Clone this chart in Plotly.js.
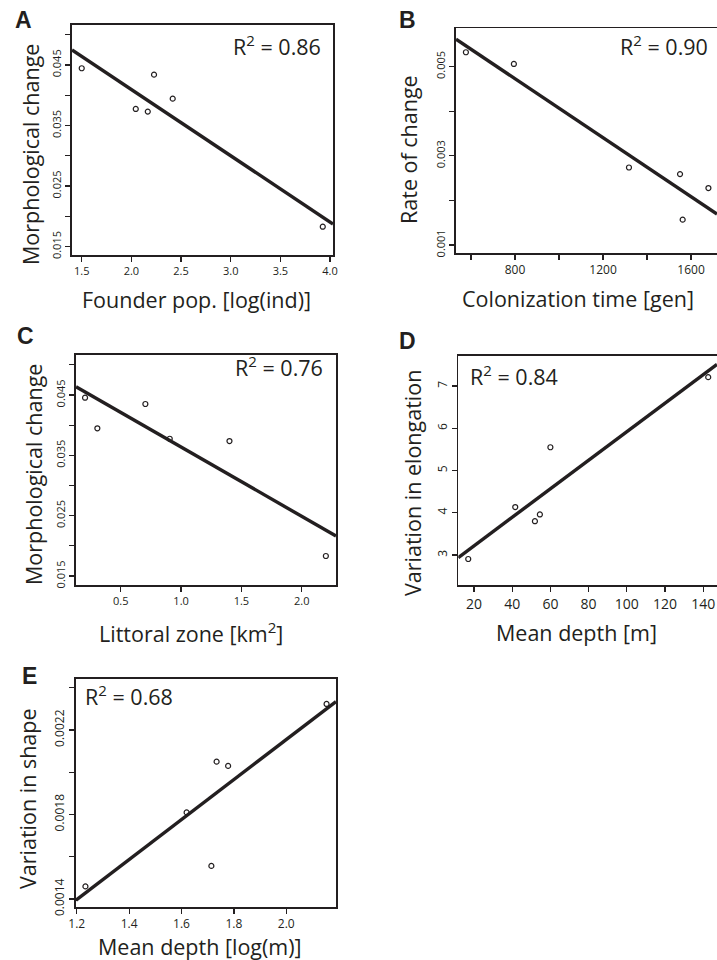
<!DOCTYPE html>
<html>
<head>
<meta charset="utf-8">
<script src="https://cdn.plot.ly/plotly-3.0.1.min.js"></script>
<style>html,body{margin:0;padding:0;background:#fff;}#chart{width:717px;height:960px;}</style>
</head>
<body>
<div id="chart"></div>
<script>
// ---------- Data ----------
// Panel A
const founderPop = [1.50, 2.044, 2.165, 2.228, 2.416, 3.927];
const morphChangeA = [0.04446, 0.03774, 0.03730, 0.0434, 0.03944, 0.0183];
const fitA_x = [1.402, 4.03];
const fitA_y = [0.04748, 0.01875];
// Panel B
const colonTime = [577, 795, 1318, 1550, 1562, 1679];
const rateChange = [0.005322, 0.00506, 0.002738, 0.00259, 0.001568, 0.002277];
const fitB_x = [532, 1718];
const fitB_y = [0.005613, 0.001696];
// Panel C
const littoral = [0.204, 0.306, 0.704, 0.906, 1.401, 2.20];
const morphChangeC = [0.04455, 0.03948, 0.04351, 0.03775, 0.03737, 0.01832];
const fitC_x = [0.129, 2.284];
const fitC_y = [0.04638, 0.02163];
// Panel D
const meanDepth = [17.0, 41.6, 51.9, 54.5, 60.0, 142.6];
const elongVar = [2.905, 4.135, 3.80, 3.96, 5.55, 7.21];
const fitD_x = [11.8, 147.2];
const fitD_y = [2.94, 7.51];
// Panel E
const logDepth = [1.233, 1.6195, 1.714, 1.734, 1.778, 2.154];
const shapeVar = [0.00146, 0.00181, 0.001557, 0.00205, 0.00203, 0.002323];
const fitE_x = [1.197, 2.19];
const fitE_y = [0.001395, 0.002334];

// Tick labels (labelled ticks) and unlabelled minor ticks
const tickA_x = [1.5, 2.0, 2.5, 3.0, 3.5, 4.0];
const tickA_xText = ['1.5', '2.0', '2.5', '3.0', '3.5', '4.0'];
const tickMorph_y = [0.015, 0.025, 0.035, 0.045];
const tickMorph_yText = ['0.015', '0.025', '0.035', '0.045'];
const minorMorph_y = [0.020, 0.030, 0.040, 0.050];
const tickB_x = [800, 1200, 1600];
const tickB_xText = ['800', '1200', '1600'];
const minorB_x = [600, 1000, 1400];
const tickB_y = [0.001, 0.003, 0.005];
const tickB_yText = ['0.001', '0.003', '0.005'];
const minorB_y = [0.002, 0.004];
const tickC_x = [0.5, 1.0, 1.5, 2.0];
const tickC_xText = ['0.5', '1.0', '1.5', '2.0'];
const tickD_x = [20, 40, 60, 80, 100, 120, 140];
const tickD_xText = ['20', '40', '60', '80', '100', '120', '140'];
const tickD_y = [3, 4, 5, 6, 7];
const tickD_yText = ['3', '4', '5', '6', '7'];
const tickE_x = [1.2, 1.4, 1.6, 1.8, 2.0];
const tickE_xText = ['1.2', '1.4', '1.6', '1.8', '2.0'];
const tickE_y = [0.0014, 0.0018, 0.0022];
const tickE_yText = ['0.0014', '0.0018', '0.0022'];
const minorE_y = [0.0016, 0.0020, 0.0024];

// ---------- Layout helpers ----------
const W = 717, H = 960;
const px = x => x / W;
const py = y => 1 - y / H;
const INK = '#231f20';
const FONT = 'Open Sans, Noto Sans, sans-serif';

function minorSpec(vals) {
  if (!vals) return {ticks: ''};
  return {tickmode: 'array', tickvals: vals, ticks: 'outside', ticklen: 5, tickwidth: 1.3,
          tickcolor: INK, showgrid: false};
}
function xa(domain, range, tv, tt, fs, anchor, minor) {
  return {
    domain: [px(domain[0]), px(domain[1])], range: range, anchor: anchor,
    tickmode: 'array', tickvals: tv, ticktext: tt,
    showline: true, linecolor: INK, linewidth: 1.8, mirror: true,
    ticks: 'outside', ticklen: 5, tickwidth: 1.3, tickcolor: INK,
    tickfont: {family: FONT, size: fs, color: INK},
    minor: minorSpec(minor),
    showgrid: false, zeroline: false, fixedrange: true
  };
}
function ya(domain, range, tv, tt, fs, anchor, mirror, minor) {
  return {
    domain: [py(domain[1]), py(domain[0])], range: range, anchor: anchor,
    tickmode: 'array', tickvals: tv, ticktext: tt, tickangle: -90,
    showline: true, linecolor: INK, linewidth: 1.8, mirror: mirror,
    ticks: 'outside', ticklen: 5, tickwidth: 1.3, tickcolor: INK,
    tickfont: {family: FONT, size: fs, color: INK},
    minor: minorSpec(minor),
    showgrid: false, zeroline: false, fixedrange: true
  };
}

function pts(x, y, ax) {
  return {x: x, y: y, xaxis: 'x' + ax, yaxis: 'y' + ax, type: 'scatter', mode: 'markers',
    marker: {symbol: 'circle-open', size: 5, color: INK, line: {width: 1.2, color: INK}},
    hoverinfo: 'x+y', showlegend: false};
}
function fit(x, y, ax) {
  return {x: x, y: y, xaxis: 'x' + ax, yaxis: 'y' + ax, type: 'scatter', mode: 'lines',
    line: {color: INK, width: 3.4}, hoverinfo: 'skip', showlegend: false};
}

const data = [
  fit(fitA_x, fitA_y, ''), pts(founderPop, morphChangeA, ''),
  fit(fitB_x, fitB_y, '2'), pts(colonTime, rateChange, '2'),
  fit(fitC_x, fitC_y, '3'), pts(littoral, morphChangeC, '3'),
  fit(fitD_x, fitD_y, '4'), pts(meanDepth, elongVar, '4'),
  fit(fitE_x, fitE_y, '5'), pts(logDepth, shapeVar, '5')
];

function ann(text, x, y, size, opts) {
  return Object.assign({text: text, x: px(x), y: py(y), xref: 'paper', yref: 'paper',
    showarrow: false, xanchor: 'center', yanchor: 'middle',
    font: {family: FONT, size: size, color: INK}}, opts || {});
}
const TS = 21.5;
const LET = {family: 'Liberation Sans, Arial, sans-serif', size: 23, color: INK, weight: 'bold'};

const annotations = [
  // panel letters
  ann('<b>A</b>', 24, 20, 23, {font: LET}),
  ann('<b>B</b>', 407, 20, 23, {font: LET}),
  ann('<b>C</b>', 25, 336, 23, {font: LET}),
  ann('<b>D</b>', 407, 341, 23, {font: LET}),
  ann('<b>E</b>', 29, 676, 23, {font: LET}),
  // R^2
  ann('R<sup>2</sup> = 0.86', 323, 45, TS, {xanchor: 'right'}),
  ann('R<sup>2</sup> = 0.90', 710, 45, TS, {xanchor: 'right'}),
  ann('R<sup>2</sup> = 0.76', 325, 366, TS, {xanchor: 'right'}),
  ann('R<sup>2</sup> = 0.84', 468, 375, TS, {xanchor: 'left'}),
  ann('R<sup>2</sup> = 0.68', 83, 695, TS, {xanchor: 'left'}),
  // axis titles
  ann('Morphological change', 30, 155, TS, {textangle: -90}),
  ann('Founder pop. [log(ind)]', 196, 299, TS),
  ann('Rate of change', 408, 150, TS, {textangle: -90}),
  ann('Colonization time [gen]', 578, 298, TS),
  ann('Morphological change', 33, 475, TS, {textangle: -90}),
  ann('Littoral zone [km<sup>2</sup>]', 191, 632, TS),
  ann('Variation in elongation', 412, 483, TS, {textangle: -90}),
  ann('Mean depth [m]', 576, 632, TS),
  ann('Variation in shape', 27, 799, TS, {textangle: -90}),
  ann('Mean depth [log(m)]', 200, 946, TS)
];

const layout = {
  width: W, height: H, margin: {l: 0, r: 0, t: 0, b: 0},
  paper_bgcolor: '#fff', plot_bgcolor: '#fff', showlegend: false,
  font: {family: FONT, color: INK},
  xaxis:  xa([72, 333], [1.402, 4.03], tickA_x, tickA_xText, 11, 'y', null),
  yaxis:  ya([25, 255], [0.01363, 0.0516], tickMorph_y, tickMorph_yText, 11, 'x', true, minorMorph_y),
  xaxis2: xa([456, 717], [532, 1718], tickB_x, tickB_xText, 12, 'y2', minorB_x),
  yaxis2: ya([28.3, 253], [0.000821, 0.005859], tickB_y, tickB_yText, 11, 'x2', false, minorB_y),
  xaxis3: xa([76, 336], [0.129, 2.284], tickC_x, tickC_xText, 11, 'y3', null),
  yaxis3: ya([355, 585], [0.01351, 0.05163], tickMorph_y, tickMorph_yText, 11, 'x3', true, minorMorph_y),
  xaxis4: xa([458.3, 717], [11.8, 147.2], tickD_x, tickD_xText, 14, 'y4', null),
  yaxis4: ya([356, 585], [2.29, 7.71], tickD_y, tickD_yText, 12, 'x4', false, null),
  xaxis5: xa([76, 336], [1.197, 2.19], tickE_x, tickE_xText, 12, 'y5', null),
  yaxis5: ya([679, 906.7], [0.001364, 0.002441], tickE_y, tickE_yText, 12, 'x5', true, minorE_y),
  annotations: annotations
};

Plotly.newPlot('chart', data, layout, {displayModeBar: false, staticPlot: true});
</script>
</body>
</html>
